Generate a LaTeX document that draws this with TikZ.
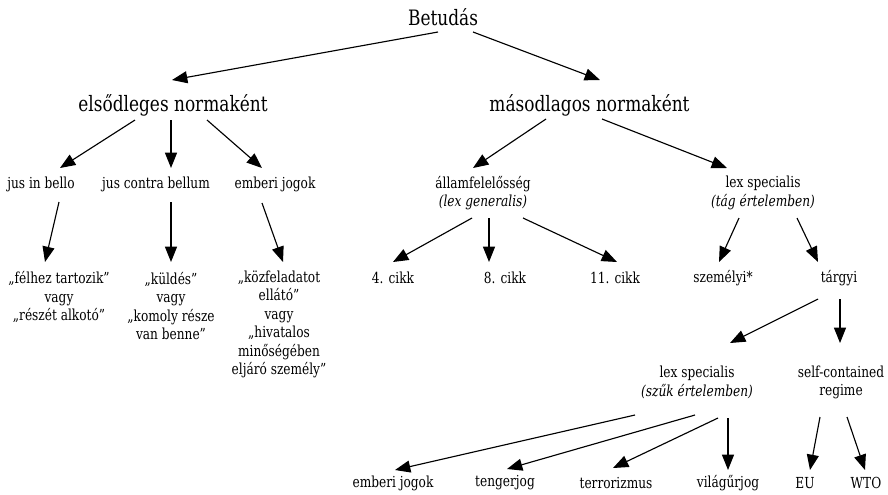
\documentclass[tikz,border=0pt]{standalone}
\usepackage{fontspec}
\setmainfont{DejaVu Serif}[FakeStretch=0.8]
\usetikzlibrary{arrows.meta}
\begin{document}
\begin{tikzpicture}[x=0.75pt,y=-0.75pt,
  big/.style={inner sep=0pt,font=\fontsize{15.9}{18}\selectfont},
  sm/.style={inner sep=0pt,align=center,font=\fontsize{11.4}{13.9}\selectfont},
  arr/.style={line width=0.85pt,-{Triangle[length=11.5pt,width=9pt]}}]
\useasboundingbox (0,0) rectangle (888,494);
% nodes
\node[big] (betu) at (443,17) {Betudás};
\node[big] (elso) at (173,105) {elsődleges normaként};
\node[big] (maso) at (589.5,105) {másodlagos normaként};
\node[sm] (jib) at (41,184) {jus in bello};
\node[sm] (jcb) at (156,184) {jus contra bellum};
\node[sm] (ej1) at (275,184) {emberi jogok};
\node[sm] (allam) at (483,193) {államfelelősség\\\textit{(lex generalis)}};
\node[sm] (lextag) at (763,193) {lex specialis\\\textit{(tág értelemben)}};
\node[sm] (q1) at (59,297) {„félhez tartozik”\\vagy\\„részét alkotó”};
\node[sm] (q2) at (171,306) {„küldés”\\vagy\\„komoly része\\van benne”};
\node[sm] (q3) at (279,324.5) {„közfeladatot\\ellátó”\\vagy\\„hivatalos\\minőségében\\eljáró személy”};
\node[sm] (c4) at (393,278) {4. cikk};
\node[sm] (c8) at (505,278) {8. cikk};
\node[sm] (c11) at (615,278) {11. cikk};
\node[sm] (szem) at (723,278) {személyi*};
\node[sm] (targ) at (839,278) {tárgyi};
\node[sm] (lexszuk) at (697,382.5) {lex specialis\\\textit{(szűk értelemben)}};
\node[sm] (self) at (841,382.5) {self-contained\\regime};
\node[sm] (b1) at (393,483) {emberi jogok};
\node[sm] (b2) at (505,483) {tengerjog};
\node[sm] (b3) at (616,483) {terrorizmus};
\node[sm] (b4) at (728,483) {világűrjog};
\node[sm] (eu) at (805,483) {EU};
\node[sm] (wto) at (866,483) {WTO};
% connectors
\draw[arr] ([shift={(-5,15)}]betu.center) -- ([shift={(-1,-25)}]elso.center);
\draw[arr] ([shift={(30,15)}]betu.center) -- ([shift={(10.5,-25)}]maso.center);
\draw[arr] ([shift={(-38,15)}]elso.center) -- ([shift={(19,-16)}]jib.center);
\draw[arr] ([shift={(-2,15)}]elso.center) -- ([shift={(15,-16)}]jcb.center);
\draw[arr] ([shift={(34,15)}]elso.center) -- ([shift={(-13,-16)}]ej1.center);
\draw[arr] ([shift={(-43.5,14)}]maso.center) -- ([shift={(-10,-25)}]allam.center);
\draw[arr] ([shift={(12.5,14)}]maso.center) -- ([shift={(-36,-25)}]lextag.center);
\draw[arr] ([shift={(18,18)}]jib.center) -- ([shift={(-14,-35)}]q1.center);
\draw[arr] ([shift={(15,18)}]jcb.center) -- ([shift={(0,-44)}]q2.center);
\draw[arr] ([shift={(-13,19)}]ej1.center) -- ([shift={(4,-62.5)}]q3.center);
\draw[arr] ([shift={(-11,25)}]allam.center) -- ([shift={(0,-16)}]c4.center);
\draw[arr] ([shift={(6,25)}]allam.center) -- ([shift={(-16,-16)}]c8.center);
\draw[arr] ([shift={(40,25)}]allam.center) -- ([shift={(2,-16)}]c11.center);
\draw[arr] ([shift={(-24,25)}]lextag.center) -- ([shift={(-4,-16)}]szem.center);
\draw[arr] ([shift={(34,25)}]lextag.center) -- ([shift={(-21,-16)}]targ.center);
\draw[arr] ([shift={(-21,21)}]targ.center) -- ([shift={(33,-39.5)}]lexszuk.center);
\draw[arr] ([shift={(1,21)}]targ.center) -- ([shift={(-1,-39.5)}]self.center);
\draw[arr] ([shift={(-62,32.5)}]lexszuk.center) -- ([shift={(2,-13)}]b1.center);
\draw[arr] ([shift={(-2,32.5)}]lexszuk.center) -- ([shift={(2,-14)}]b2.center);
\draw[arr] ([shift={(21,35.5)}]lexszuk.center) -- ([shift={(-3,-15)}]b3.center);
\draw[arr] ([shift={(31,35.5)}]lexszuk.center) -- ([shift={(0,-13)}]b4.center);
\draw[arr] ([shift={(-21,34.5)}]self.center) -- ([shift={(5,-13)}]eu.center);
\draw[arr] ([shift={(6,34.5)}]self.center) -- ([shift={(-1,-13)}]wto.center);
\end{tikzpicture}
\end{document}
